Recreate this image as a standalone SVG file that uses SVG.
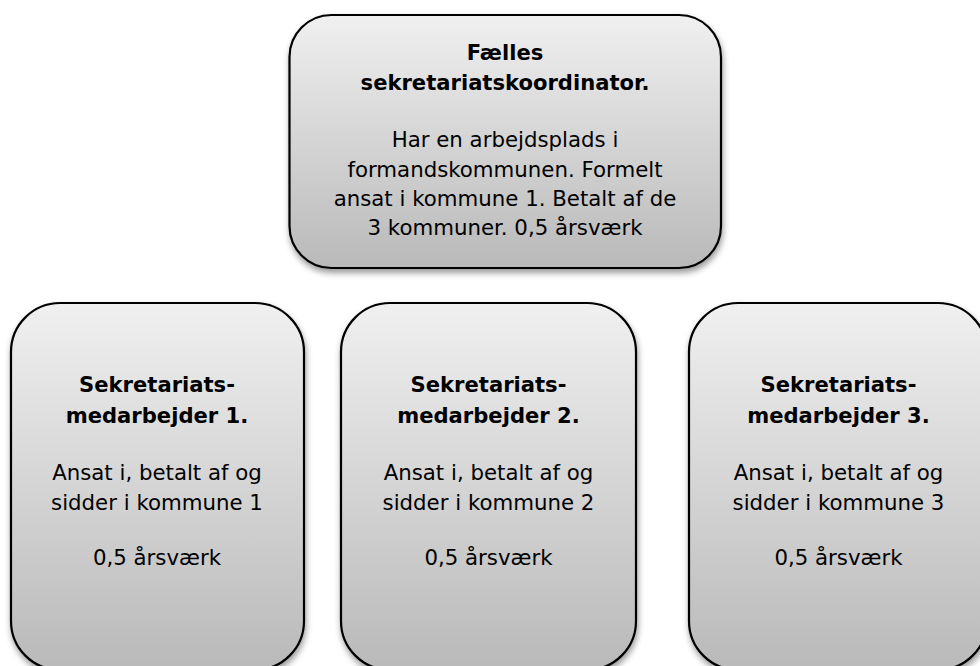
<svg xmlns="http://www.w3.org/2000/svg" width="980" height="666" viewBox="0 0 980 666">
  <style>
    .box { fill: url(#g); stroke: #000; stroke-width: 2.2; filter: url(#sh); }
    .t { font-family: "DejaVu Sans", Verdana, sans-serif; font-size: 21.3px; fill: #000; text-anchor: middle; }
    .b { font-weight: bold; font-size: 21.1px; }
  </style>
  <defs>
    <linearGradient id="g" x1="0" y1="0" x2="0" y2="1">
      <stop offset="0" stop-color="#f0f0f0"/>
      <stop offset="1" stop-color="#b9b9b9"/>
    </linearGradient>
    <filter id="sh" x="-10%" y="-10%" width="120%" height="125%">
      <feDropShadow dx="1" dy="4" stdDeviation="3" flood-color="#000" flood-opacity="0.4"/>
    </filter>
  </defs>
  <rect width="980" height="666" fill="#fff"/>
  <g id="connectors"></g>
  <g id="node-top">
    <rect class="box" x="289.5" y="15" width="431.5" height="253" rx="42" ry="42"/>
    <text class="t b" x="505" y="60">Fælles</text>
    <text class="t b" x="505" y="90">sekretariatskoordinator.</text>
    <text class="t" x="505" y="147">Har en arbejdsplads i</text>
    <text class="t" x="505" y="177">formandskommunen. Formelt</text>
    <text class="t" x="505" y="206">ansat i kommune 1. Betalt af de</text>
    <text class="t" x="505" y="235">3 kommuner. 0,5 årsværk</text>
  </g>
  <g id="node-1">
    <rect class="box" x="11" y="303" width="293" height="367" rx="49" ry="49"/>
    <text class="t b" x="157" y="392">Sekretariats-</text>
    <text class="t b" x="157" y="423">medarbejder 1.</text>
    <text class="t" x="157" y="480">Ansat i, betalt af og</text>
    <text class="t" x="157" y="510">sidder i kommune 1</text>
    <text class="t" x="157" y="565">0,5 årsværk</text>
  </g>
  <g id="node-2">
    <rect class="box" x="341" y="303" width="295" height="367" rx="49" ry="49"/>
    <text class="t b" x="488.5" y="392">Sekretariats-</text>
    <text class="t b" x="488.5" y="423">medarbejder 2.</text>
    <text class="t" x="488.5" y="480">Ansat i, betalt af og</text>
    <text class="t" x="488.5" y="510">sidder i kommune 2</text>
    <text class="t" x="488.5" y="565">0,5 årsværk</text>
  </g>
  <g id="node-3">
    <rect class="box" x="689" y="303" width="298" height="367" rx="49" ry="49"/>
    <text class="t b" x="838.5" y="392">Sekretariats-</text>
    <text class="t b" x="838.5" y="423">medarbejder 3.</text>
    <text class="t" x="838.5" y="480">Ansat i, betalt af og</text>
    <text class="t" x="838.5" y="510">sidder i kommune 3</text>
    <text class="t" x="838.5" y="565">0,5 årsværk</text>
  </g>
</svg>
